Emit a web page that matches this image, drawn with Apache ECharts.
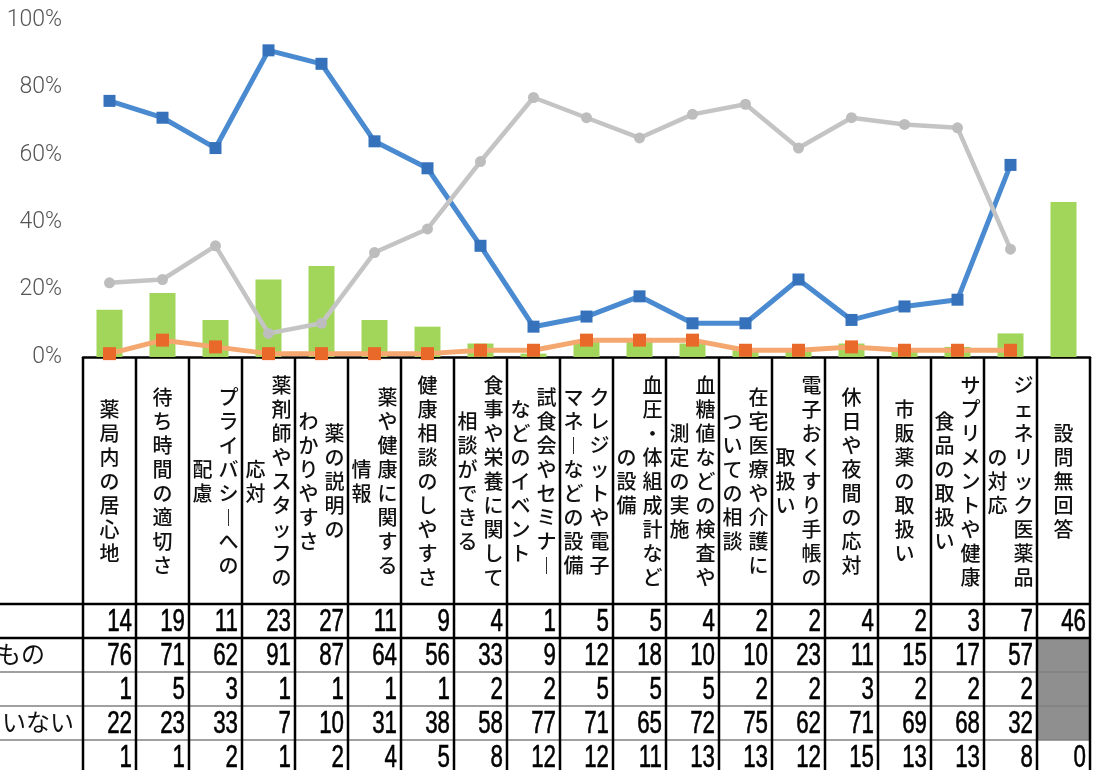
<!DOCTYPE html>
<html><head><meta charset="utf-8">
<script src="https://cdn.jsdelivr.net/npm/echarts/dist/echarts.min.js"></script>
<style>html,body{margin:0;padding:0;background:#fff}#c{width:1095px;height:770px}</style>
</head><body><div id="c"></div>
<script>
// ---- data ----
const categories = ['薬局内の居心地','待ち時間の適切さ','プライバシーへの配慮','薬剤師やスタッフの応対','薬の説明のわかりやすさ','薬や健康に関する情報','健康相談のしやすさ','食事や栄養に関して相談ができる','試食会やセミナーなどのイベント','クレジットや電子マネーなどの設備','血圧・体組成計などの設備','血糖値などの検査や測定の実施','在宅医療や介護についての相談','電子おくすり手帳の取扱い','休日や夜間の応対','市販薬の取扱い','サプリメントや健康食品の取扱い','ジェネリック医薬品の対応','設問無回答'];
const headerLines = [['薬局内の居心地'],['待ち時間の適切さ'],['プライバシーへの','配慮'],['薬剤師やスタッフの','応対'],['薬の説明の','わかりやすさ'],['薬や健康に関する','情報'],['健康相談のしやすさ'],['食事や栄養に関して','相談ができる'],['試食会やセミナー','などのイベント'],['クレジットや電子','マネーなどの設備'],['血圧・体組成計など','の設備'],['血糖値などの検査や','測定の実施'],['在宅医療や介護に','ついての相談'],['電子おくすり手帳の','取扱い'],['休日や夜間の応対'],['市販薬の取扱い'],['サプリメントや健康','食品の取扱い'],['ジェネリック医薬品','の対応'],['設問無回答']];
const barValues   = [14,19,11,23,27,11,9,4,1,5,5,4,2,2,4,2,3,7,46];
const blueValues  = [76,71,62,91,87,64,56,33,9,12,18,10,10,23,11,15,17,57,null];
const orangeValues= [1,5,3,1,1,1,1,2,2,5,5,5,2,2,3,2,2,2,null];
const grayValues  = [22,23,33,7,10,31,38,58,77,71,65,72,75,62,71,69,68,32,null];
const lastRowValues=[1,1,2,1,2,4,5,8,12,12,11,13,13,12,15,13,13,8,0];
const rowLabels = ['', 'もの', '', 'いない', ''];
const yMax = 100, yInterval = 20;

const tableRows = [barValues, blueValues, orangeValues, grayValues, lastRowValues];
const HEADER_H = 247, ROW_H = 34;

function toVertical(s){
  return Array.from(s.replace(/ー/g,'︱')).join('\n');
}

const chart = echarts.init(document.getElementById('c'), null, {renderer:'canvas'});
chart.setOption({
  animation:false,
  backgroundColor:'#fff',
  grid:{left:83, right:5, top:20, bottom:413, containLabel:false},
  xAxis:{type:'category', data:categories, boundaryGap:true,
    axisLine:{lineStyle:{color:'#000', width:2.5}}, axisTick:{show:false}, axisLabel:{show:false}, splitLine:{show:false}},
  yAxis:{type:'value', min:0, max:yMax, interval:yInterval,
    axisLine:{show:false}, axisTick:{show:false}, splitLine:{show:false},
    axisLabel:{formatter:'{value}%', margin:21, color:'#555', fontSize:23, fontWeight:300, fontFamily:'Roboto, "DejaVu Sans Condensed", sans-serif'}},
  graphic: rowLabels.map((t,r)=> t ? {type:'text', right: 1095-(r===1?45:74), top: 604 + r*ROW_H + 4,
      style:{text:t, font:'24px "Noto Sans CJK JP"', fill:'#111'}} : null).filter(Boolean),
  series:[
    {type:'bar', data:barValues, barWidth:26, itemStyle:{color:'#a2d65a'}, z:1},
    {type:'line', data:blueValues, symbol:'rect', symbolSize:12, lineStyle:{color:'#4a8ad0', width:5},
      itemStyle:{color:'#3572bb'}, z:3},
    {type:'line', data:orangeValues, symbol:'rect', symbolSize:13, lineStyle:{color:'#f4a870', width:5},
      itemStyle:{color:'#e8692a'}, z:4},
    {type:'line', data:grayValues, symbol:'circle', symbolSize:11, lineStyle:{color:'#c4c4c4', width:4.5},
      itemStyle:{color:'#bdbdbd'}, z:5},
    {type:'custom', clip:false, silent:true, z:10,
      data: categories.map((c,i)=>[i,0]),
      encode:{x:0, y:1},
      renderItem:function(params, api){
        const i = api.value(0);
        const p = api.coord([i,0]);
        const w = api.size([1,0])[0];
        const x0 = p[0]-w/2, x1 = p[0]+w/2;
        const yA = p[1];
        const top = yA + HEADER_H;
        const ch = [];
        const lines = headerLines[i];
        const offs = lines.length === 1 ? [0] : [13,-13];
        lines.forEach((ln,k)=>{
          ch.push({type:'text', style:{text:toVertical(ln), x:p[0]+offs[k], y:yA+HEADER_H/2+1,
            align:'center', verticalAlign:'middle', font:'500 20px "Noto Sans CJK JP"', lineHeight:24, fill:'#111'}});
        });
        tableRows.forEach((arr,r)=>{
          const ry = top + r*ROW_H;
          const v = arr[i];
          if (v === null || v === undefined){
            ch.push({type:'rect', shape:{x:x0, y:ry, width:w, height:ROW_H}, style:{fill:'#8f8f8f'}});
          } else {
            ch.push({type:'text', x:x1-4, y:ry+ROW_H/2+1, scaleX:0.72,
              style:{text:String(v), x:0, y:0, align:'right', verticalAlign:'middle',
              font:'31px "Liberation Sans", Arial, sans-serif', fill:'#000', stroke:'#000', lineWidth:0.6}});
          }
        });
        const hx0 = i===0 ? 0 : x0;
        tableRows.forEach((arr,r)=>{
          const ry = top + r*ROW_H;
          const strong = r < 2;
          ch.push({type:'line', shape:{x1:hx0, y1:ry, x2:x1, y2:ry},
            style:{stroke: strong?'#000':'#808080', lineWidth: strong?2.5:1.3}});
        });
        ch.push({type:'line', shape:{x1:x0, y1:yA, x2:x0, y2:800}, style:{stroke:'#000', lineWidth:2.5}});
        if (i === categories.length-1){
          ch.push({type:'line', shape:{x1:x1, y1:yA, x2:x1, y2:800}, style:{stroke:'#000', lineWidth:2.5}});
        }
        return {type:'group', children:ch};
      }
    }
  ]
});
</script></body></html>
